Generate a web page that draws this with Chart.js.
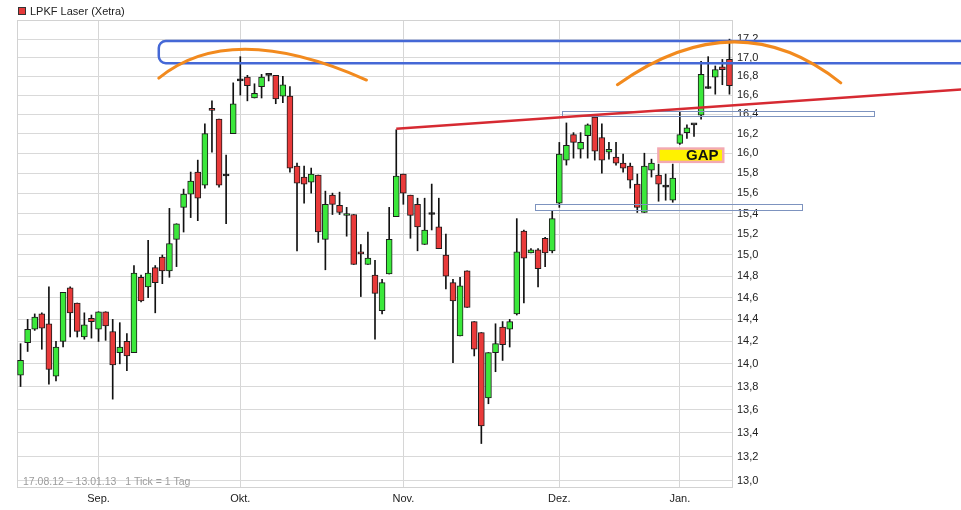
<!DOCTYPE html>
<html>
<head>
<meta charset="utf-8">
<title>LPKF Laser (Xetra)</title>
<script src="https://cdn.jsdelivr.net/npm/chart.js@4/dist/chart.umd.min.js"></script>
<style>
    html, body { margin: 0; padding: 0; background: #ffffff; }
    #wrap { width: 961px; height: 510px; }
</style>
</head>
<body>
<div id="wrap"><canvas id="chart" width="961" height="510"></canvas></div>
<script>
// Daily candles, Xetra, 17.08.12 - 11.01.13 (one entry per trading day)
const openPrices = [
    13.90, 14.19, 14.31, 14.45, 14.36, 13.89, 14.20, 14.69, 14.55, 14.24, 14.41,
    14.31, 14.47, 14.29, 14.10, 14.20, 14.10, 14.79, 14.70, 14.88, 14.98,
    14.85, 15.15, 15.46, 15.59, 15.81, 15.68, 16.46, 16.35, 15.77, 16.20,
    16.75, 16.79, 16.57, 16.69, 16.81, 16.81, 16.59, 16.59, 15.87, 15.76,
    15.71, 15.78, 15.15, 15.58, 15.48, 15.38, 15.39, 15.03, 14.91, 14.81,
    14.48, 14.82, 15.37, 15.79, 15.58, 15.49, 15.10, 15.39, 15.27, 15.00,
    14.74, 14.25, 14.85, 14.38, 14.28, 13.70, 14.10, 14.33, 14.31, 14.45,
    15.23, 15.02, 15.05, 15.16, 15.04, 15.50, 15.93, 16.19, 16.04, 16.18,
    16.37, 16.16, 16.01, 15.96, 15.90, 15.87, 15.69, 15.41, 15.83, 15.78,
    15.66, 15.53, 16.10, 16.21, 16.29, 16.39, 16.67, 16.79, 16.90, 16.98
];
const highPrices = [
    14.18, 14.40, 14.45, 14.46, 14.70, 14.20, 14.65, 14.70, 14.55, 14.46, 14.44,
    14.47, 14.47, 14.40, 14.37, 14.27, 14.90, 14.81, 15.14, 14.90, 15.00,
    15.45, 15.30, 15.64, 15.81, 15.93, 16.30, 16.54, 16.35, 15.98, 16.73,
    17.01, 16.81, 16.72, 16.82, 16.81, 16.81, 16.80, 16.69, 15.90, 15.87,
    15.85, 15.78, 15.62, 15.60, 15.61, 15.46, 15.39, 15.10, 15.22, 14.95,
    14.77, 15.46, 16.24, 15.79, 15.58, 15.55, 15.55, 15.69, 15.55, 15.20,
    14.77, 14.79, 14.85, 14.38, 14.28, 14.10, 14.36, 14.38, 14.40, 15.35,
    15.24, 15.06, 15.06, 15.17, 15.43, 16.11, 16.31, 16.21, 16.21, 16.30,
    16.38, 16.30, 16.11, 16.11, 15.99, 15.90, 15.79, 16.00, 15.94, 15.89,
    15.79, 15.89, 16.42, 16.29, 16.29, 16.96, 17.01, 16.91, 16.98, 17.20
];
const lowPrices = [
    13.80, 14.11, 14.30, 14.13, 13.82, 13.85, 14.15, 14.24, 14.24, 14.22, 14.23,
    14.20, 14.21, 13.69, 14.00, 13.94, 14.10, 14.56, 14.60, 14.46, 14.73,
    14.79, 14.89, 15.22, 15.36, 15.33, 15.65, 16.01, 15.66, 15.30, 16.20,
    16.60, 16.54, 16.57, 16.57, 16.75, 16.51, 16.52, 15.81, 15.04, 15.50,
    15.60, 15.12, 14.86, 15.39, 15.39, 15.18, 14.91, 14.61, 14.91, 14.22,
    14.45, 14.82, 15.37, 15.49, 15.16, 15.04, 15.10, 15.24, 15.06, 14.68,
    14.01, 14.25, 14.51, 14.07, 13.31, 13.65, 13.93, 14.03, 14.15, 14.44,
    14.55, 15.02, 14.70, 14.89, 15.02, 15.46, 15.88, 15.95, 15.95, 15.95,
    15.93, 15.80, 15.94, 15.88, 15.81, 15.65, 15.41, 15.41, 15.76, 15.52,
    15.53, 15.51, 16.09, 16.15, 16.17, 16.35, 16.67, 16.61, 16.71, 16.61
];
const closePrices = [
    14.03, 14.31, 14.42, 14.32, 13.95, 14.15, 14.65, 14.46, 14.29, 14.35, 14.38,
    14.47, 14.34, 13.99, 14.15, 14.07, 14.83, 14.57, 14.83, 14.74, 14.85,
    15.11, 15.30, 15.59, 15.72, 15.55, 16.20, 16.44, 15.68, 15.77, 16.51,
    16.75, 16.70, 16.62, 16.79, 16.81, 16.56, 16.71, 15.85, 15.70, 15.69,
    15.79, 15.22, 15.49, 15.49, 15.41, 15.40, 14.91, 15.01, 14.97, 14.64,
    14.74, 15.15, 15.77, 15.60, 15.38, 15.27, 15.24, 15.39, 15.06, 14.80,
    14.57, 14.71, 14.51, 14.13, 13.46, 14.10, 14.18, 14.17, 14.38, 15.03,
    14.97, 15.05, 14.87, 15.02, 15.35, 15.99, 16.08, 16.11, 16.11, 16.29,
    16.02, 15.93, 16.04, 15.90, 15.85, 15.73, 15.46, 15.87, 15.90, 15.69,
    15.66, 15.75, 16.19, 16.26, 16.29, 16.82, 16.67, 16.87, 16.87, 16.70
];

const monthLabels = ['Jan.', 'Feb.', 'Mär.', 'Apr.', 'Mai', 'Jun.', 'Jul.', 'Aug.', 'Sep.', 'Okt.', 'Nov.', 'Dez.'];
const exchangeHolidays = ['2012-12-24', '2012-12-25', '2012-12-26', '2012-12-31', '2013-01-01'];
const yTickValues = [13.0, 13.2, 13.4, 13.6, 13.8, 14.0, 14.2, 14.4, 14.6, 14.8, 15.0,
                     15.2, 15.4, 15.6, 15.8, 16.0, 16.2, 16.4, 16.6, 16.8, 17.0, 17.2];
const yMin = 12.94;
const yMax = 17.41;

// drawn-in analysis (x = trading day index, y = price)
const resistanceBand = { from: 19.5, to: 140, top: 17.18, bottom: 16.94 };
const topArcs = [
    [[19.5, 16.78], [31.9, 17.09], [48.8, 16.76]],
    [[84.2, 16.71], [100.5, 17.17], [115.7, 16.73]]
];
const trendLine = [[53, 16.25], [132.7, 16.66]];
const supportZones = [
    { from: 76.4, to: 120.4, top: 16.43, bottom: 16.38 },
    { from: 72.6, to: 110.2, top: 15.49, bottom: 15.43 }
];
const gapMarker = { from: 89.8, to: 99.3, top: 16.06, bottom: 15.90, text: 'GAP' };

// trading days from 17.08.2012
function tradingDays(count) {
    const days = [];
    const d = new Date(2012, 7, 17);
    while (days.length < count) {
        const key = d.getFullYear() + '-' + String(d.getMonth() + 1).padStart(2, '0') + '-' + String(d.getDate()).padStart(2, '0');
        const wd = d.getDay();
        if (wd !== 0 && wd !== 6 && !exchangeHolidays.includes(key)) {
            days.push(new Date(d));
        }
        d.setDate(d.getDate() + 1);
    }
    return days;
}

const days = tradingDays(openPrices.length);
const categories = days.map(d => String(d.getDate()).padStart(2, '0') + '.' + String(d.getMonth() + 1).padStart(2, '0') + '.');
const monthStarts = days.map((d, i) => i > 0 && d.getMonth() !== days[i - 1].getMonth());

const bodyColors = openPrices.map((o, i) => {
    if (closePrices[i] > o) return '#3be83b';
    if (closePrices[i] < o) return '#e93a3a';
    return '#111111';
});

const FONT = '"Liberation Sans", Arial, sans-serif';
Chart.defaults.font.family = FONT;
Chart.defaults.color = '#222222';

const overlay = {
    id: 'overlay',
    beforeDatasetsDraw(chart) {
        const { ctx, chartArea: a } = chart;
        ctx.save();
        ctx.strokeStyle = '#d2d2d2';
        ctx.lineWidth = 1;
        ctx.strokeRect(a.left + 0.5, a.top + 0.5, a.right - a.left - 1, a.bottom - a.top - 1);
        ctx.restore();
    },
    afterDatasetsDraw(chart) {
        const { ctx, scales: { x, y } } = chart;
        const px = v => x.getPixelForValue(v);
        const py = v => y.getPixelForValue(v);
        ctx.save();

        // thin support zones
        ctx.strokeStyle = '#7d93bf';
        ctx.lineWidth = 1;
        supportZones.forEach(z => {
            ctx.strokeRect(Math.round(px(z.from)) + 0.5, Math.round(py(z.top)) + 0.5,
                Math.round(px(z.to) - px(z.from)), Math.round(py(z.bottom) - py(z.top)));
        });

        // rising trend line
        ctx.strokeStyle = '#d62a32';
        ctx.lineWidth = 2.5;
        ctx.beginPath();
        ctx.moveTo(px(trendLine[0][0]), py(trendLine[0][1]));
        ctx.lineTo(px(trendLine[1][0]), py(trendLine[1][1]));
        ctx.stroke();

        // resistance band
        ctx.strokeStyle = '#4568d6';
        ctx.lineWidth = 2.5;
        ctx.beginPath();
        ctx.roundRect(px(resistanceBand.from), py(resistanceBand.top),
            px(resistanceBand.to) - px(resistanceBand.from), py(resistanceBand.bottom) - py(resistanceBand.top), 7);
        ctx.stroke();

        // double top arcs
        ctx.strokeStyle = '#f28a1e';
        ctx.lineWidth = 3;
        ctx.lineCap = 'round';
        topArcs.forEach(arc => {
            const s = { x: px(arc[0][0]), y: py(arc[0][1]) };
            const p = { x: px(arc[1][0]), y: py(arc[1][1]) };
            const e = { x: px(arc[2][0]), y: py(arc[2][1]) };
            const c = { x: 2 * p.x - (s.x + e.x) / 2, y: 2 * p.y - (s.y + e.y) / 2 };
            ctx.beginPath();
            ctx.moveTo(s.x, s.y);
            ctx.quadraticCurveTo(c.x, c.y, e.x, e.y);
            ctx.stroke();
        });

        // gap label
        const gx0 = px(gapMarker.from), gx1 = px(gapMarker.to);
        const gy0 = py(gapMarker.top), gy1 = py(gapMarker.bottom);
        ctx.fillStyle = '#f3a9b3';
        ctx.fillRect(gx0, gy0, gx1 - gx0, gy1 - gy0);
        ctx.fillStyle = '#fff200';
        ctx.fillRect(gx0 + 2.5, gy0 + 2.5, gx1 - gx0 - 5, gy1 - gy0 - 5);
        ctx.fillStyle = '#111111';
        ctx.font = 'bold 15px ' + FONT;
        ctx.textAlign = 'right';
        ctx.textBaseline = 'middle';
        ctx.fillText(gapMarker.text, gx1 - 6, (gy0 + gy1) / 2 + 1);
        ctx.restore();
    },
    afterDraw(chart) {
        const { ctx, chartArea: a } = chart;
        ctx.save();
        // header with legend box
        ctx.fillStyle = '#e53a3a';
        ctx.fillRect(18.5, 7.5, 7, 7);
        ctx.strokeStyle = '#333333';
        ctx.lineWidth = 1;
        ctx.strokeRect(18.5, 7.5, 7, 7);
        ctx.fillStyle = '#222222';
        ctx.font = '11px ' + FONT;
        ctx.textBaseline = 'middle';
        ctx.fillText('LPKF Laser (Xetra)', 30, 11.5);
        // period note
        ctx.fillStyle = '#9c9c9c';
        ctx.font = '10.5px ' + FONT;
        ctx.fillText('17.08.12 \u2013 13.01.13   1 Tick = 1 Tag', a.left + 6, a.bottom - 6);
        ctx.restore();
    }
};

new Chart(document.getElementById('chart'), {
    type: 'bar',
    data: {
        labels: categories,
        datasets: [
            {
                label: 'Spanne',
                data: lowPrices.map((l, i) => [l, highPrices[i]]),
                backgroundColor: '#111111',
                barThickness: 1,
                grouped: false,
                order: 2
            },
            {
                label: 'LPKF Laser (Xetra)',
                data: openPrices.map((o, i) => [o, closePrices[i]]),
                backgroundColor: bodyColors,
                borderColor: '#1c1c1c',
                borderWidth: 1,
                borderSkipped: false,
                barThickness: 6,
                minBarLength: 2,
                grouped: false,
                order: 1
            }
        ]
    },
    options: {
        responsive: false,
        animation: false,
        layout: { padding: { left: 17, top: 20, right: 0, bottom: 0 } },
        plugins: {
            legend: { display: false },
            tooltip: { enabled: false }
        },
        scales: {
            x: {
                offset: true,
                grid: {
                    offset: false,
                    drawTicks: false,
                    color: ctx => (ctx.tick && monthStarts[ctx.index]) ? '#d6d6d6' : 'rgba(0,0,0,0)'
                },
                border: { display: false },
                ticks: {
                    autoSkip: false,
                    maxRotation: 0,
                    padding: 4,
                    font: { size: 11 },
                    callback: (v, i) => monthStarts[i] ? monthLabels[days[i].getMonth()] : ''
                },
                afterFit: s => { s.height = 22; }
            },
            y: {
                type: 'logarithmic',
                position: 'right',
                bounds: 'data',
                min: yMin,
                max: yMax,
                grid: { color: '#d9d9d9', drawTicks: false },
                border: { display: false },
                ticks: {
                    autoSkip: false,
                    padding: 4,
                    font: { size: 11 },
                    callback: v => v.toFixed(1).replace('.', ',')
                },
                afterBuildTicks: s => {
                    s.ticks = yTickValues.map(v => ({ value: v }));
                    s.min = yMin;
                    s.max = yMax;
                },
                afterFit: s => { s.width = 228; }
            }
        }
    },
    plugins: [overlay]
});
</script>
</body>
</html>
